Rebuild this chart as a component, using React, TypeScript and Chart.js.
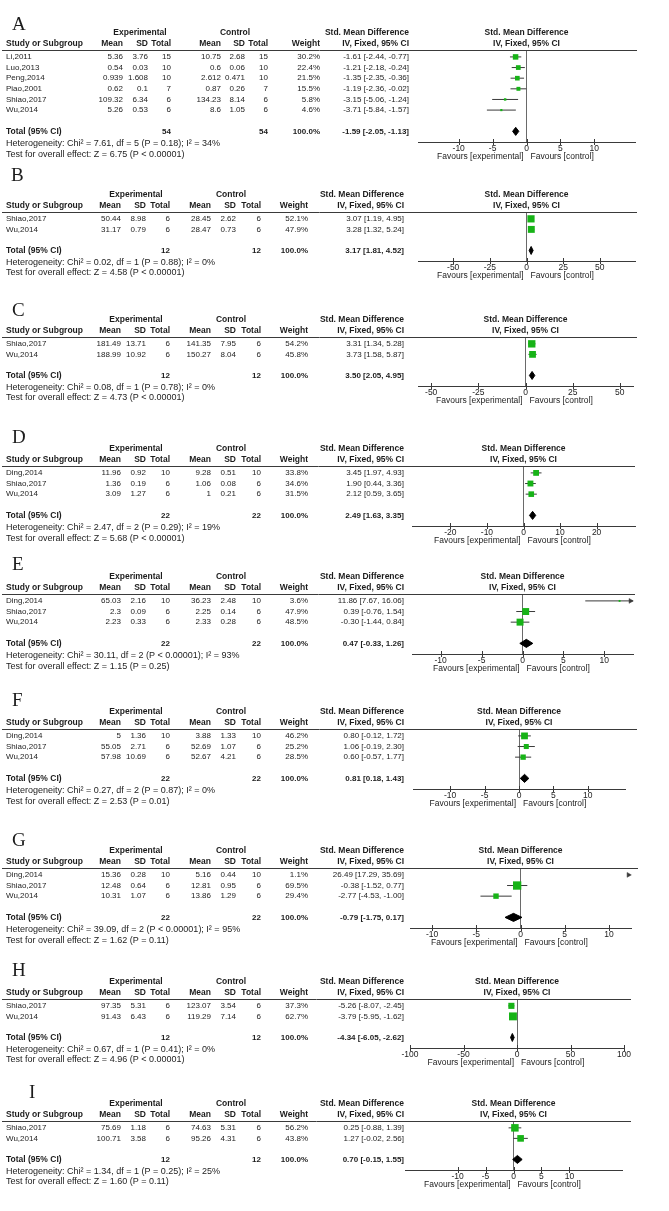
import React, { useEffect, useRef } from 'react';
import { Chart, registerables } from 'chart.js';

Chart.register(...registerables);

// ---------------- Panel A ----------------
const A_study = ['Li,2011', 'Luo,2013', 'Peng,2014', 'Piao,2001', 'Shiao,2017', 'Wu,2014'];
const A_expMean = [5.36, 0.54, 0.939, 0.62, 109.32, 5.26];
const A_expSD = [3.76, 0.03, 1.608, 0.1, 6.34, 0.53];
const A_expN = [15, 10, 10, 7, 6, 6];
const A_ctlMean = [10.75, 0.6, 2.612, 0.87, 134.23, 8.6];
const A_ctlSD = [2.68, 0.06, 0.471, 0.26, 8.14, 1.05];
const A_ctlN = [15, 10, 10, 7, 6, 6];
const A_weight = [30.2, 22.4, 21.5, 15.5, 5.8, 4.6];
const A_smd = [-1.61, -1.21, -1.35, -1.19, -3.15, -3.71];
const A_lo = [-2.44, -2.18, -2.35, -2.36, -5.06, -5.84];
const A_hi = [-0.77, -0.24, -0.36, -0.02, -1.24, -1.57];
const A_total = [54, 54];
const A_pooled = [-1.59, -2.05, -1.13];
const A_het = 'Heterogeneity: Chi² = 7.61, df = 5 (P = 0.18); I² = 34%';
const A_test = 'Test for overall effect: Z = 6.75 (P < 0.00001)';
const A_ticks = [-10, -5, 0, 5, 10];

// ---------------- Panel B ----------------
const B_study = ['Shiao,2017', 'Wu,2014'];
const B_expMean = [50.44, 31.17];
const B_expSD = [8.98, 0.79];
const B_expN = [6, 6];
const B_ctlMean = [28.45, 28.47];
const B_ctlSD = [2.62, 0.73];
const B_ctlN = [6, 6];
const B_weight = [52.1, 47.9];
const B_smd = [3.07, 3.28];
const B_lo = [1.19, 1.32];
const B_hi = [4.95, 5.24];
const B_total = [12, 12];
const B_pooled = [3.17, 1.81, 4.52];
const B_het = 'Heterogeneity: Chi² = 0.02, df = 1 (P = 0.88); I² = 0%';
const B_test = 'Test for overall effect: Z = 4.58 (P < 0.00001)';
const B_ticks = [-50, -25, 0, 25, 50];

// ---------------- Panel C ----------------
const C_study = ['Shiao,2017', 'Wu,2014'];
const C_expMean = [181.49, 188.99];
const C_expSD = [13.71, 10.92];
const C_expN = [6, 6];
const C_ctlMean = [141.35, 150.27];
const C_ctlSD = [7.95, 8.04];
const C_ctlN = [6, 6];
const C_weight = [54.2, 45.8];
const C_smd = [3.31, 3.73];
const C_lo = [1.34, 1.58];
const C_hi = [5.28, 5.87];
const C_total = [12, 12];
const C_pooled = [3.5, 2.05, 4.95];
const C_het = 'Heterogeneity: Chi² = 0.08, df = 1 (P = 0.78); I² = 0%';
const C_test = 'Test for overall effect: Z = 4.73 (P < 0.00001)';
const C_ticks = [-50, -25, 0, 25, 50];

// ---------------- Panel D ----------------
const D_study = ['Ding,2014', 'Shiao,2017', 'Wu,2014'];
const D_expMean = [11.96, 1.36, 3.09];
const D_expSD = [0.92, 0.19, 1.27];
const D_expN = [10, 6, 6];
const D_ctlMean = [9.28, 1.06, 1];
const D_ctlSD = [0.51, 0.08, 0.21];
const D_ctlN = [10, 6, 6];
const D_weight = [33.8, 34.6, 31.5];
const D_smd = [3.45, 1.9, 2.12];
const D_lo = [1.97, 0.44, 0.59];
const D_hi = [4.93, 3.36, 3.65];
const D_total = [22, 22];
const D_pooled = [2.49, 1.63, 3.35];
const D_het = 'Heterogeneity: Chi² = 2.47, df = 2 (P = 0.29); I² = 19%';
const D_test = 'Test for overall effect: Z = 5.68 (P < 0.00001)';
const D_ticks = [-20, -10, 0, 10, 20];

// ---------------- Panel E ----------------
const E_study = ['Ding,2014', 'Shiao,2017', 'Wu,2014'];
const E_expMean = [65.03, 2.3, 2.23];
const E_expSD = [2.16, 0.09, 0.33];
const E_expN = [10, 6, 6];
const E_ctlMean = [36.23, 2.25, 2.33];
const E_ctlSD = [2.48, 0.14, 0.28];
const E_ctlN = [10, 6, 6];
const E_weight = [3.6, 47.9, 48.5];
const E_smd = [11.86, 0.39, -0.3];
const E_lo = [7.67, -0.76, -1.44];
const E_hi = [16.06, 1.54, 0.84];
const E_total = [22, 22];
const E_pooled = [0.47, -0.33, 1.26];
const E_het = 'Heterogeneity: Chi² = 30.11, df = 2 (P < 0.00001); I² = 93%';
const E_test = 'Test for overall effect: Z = 1.15 (P = 0.25)';
const E_ticks = [-10, -5, 0, 5, 10];

// ---------------- Panel F ----------------
const F_study = ['Ding,2014', 'Shiao,2017', 'Wu,2014'];
const F_expMean = [5, 55.05, 57.98];
const F_expSD = [1.36, 2.71, 10.69];
const F_expN = [10, 6, 6];
const F_ctlMean = [3.88, 52.69, 52.67];
const F_ctlSD = [1.33, 1.07, 4.21];
const F_ctlN = [10, 6, 6];
const F_weight = [46.2, 25.2, 28.5];
const F_smd = [0.8, 1.06, 0.6];
const F_lo = [-0.12, -0.19, -0.57];
const F_hi = [1.72, 2.3, 1.77];
const F_total = [22, 22];
const F_pooled = [0.81, 0.18, 1.43];
const F_het = 'Heterogeneity: Chi² = 0.27, df = 2 (P = 0.87); I² = 0%';
const F_test = 'Test for overall effect: Z = 2.53 (P = 0.01)';
const F_ticks = [-10, -5, 0, 5, 10];

// ---------------- Panel G ----------------
const G_study = ['Ding,2014', 'Shiao,2017', 'Wu,2014'];
const G_expMean = [15.36, 12.48, 10.31];
const G_expSD = [0.28, 0.64, 1.07];
const G_expN = [10, 6, 6];
const G_ctlMean = [5.16, 12.81, 13.86];
const G_ctlSD = [0.44, 0.95, 1.29];
const G_ctlN = [10, 6, 6];
const G_weight = [1.1, 69.5, 29.4];
const G_smd = [26.49, -0.38, -2.77];
const G_lo = [17.29, -1.52, -4.53];
const G_hi = [35.69, 0.77, -1.0];
const G_total = [22, 22];
const G_pooled = [-0.79, -1.75, 0.17];
const G_het = 'Heterogeneity: Chi² = 39.09, df = 2 (P < 0.00001); I² = 95%';
const G_test = 'Test for overall effect: Z = 1.62 (P = 0.11)';
const G_ticks = [-10, -5, 0, 5, 10];

// ---------------- Panel H ----------------
const H_study = ['Shiao,2017', 'Wu,2014'];
const H_expMean = [97.35, 91.43];
const H_expSD = [5.31, 6.43];
const H_expN = [6, 6];
const H_ctlMean = [123.07, 119.29];
const H_ctlSD = [3.54, 7.14];
const H_ctlN = [6, 6];
const H_weight = [37.3, 62.7];
const H_smd = [-5.26, -3.79];
const H_lo = [-8.07, -5.95];
const H_hi = [-2.45, -1.62];
const H_total = [12, 12];
const H_pooled = [-4.34, -6.05, -2.62];
const H_het = 'Heterogeneity: Chi² = 0.67, df = 1 (P = 0.41); I² = 0%';
const H_test = 'Test for overall effect: Z = 4.96 (P < 0.00001)';
const H_ticks = [-100, -50, 0, 50, 100];

// ---------------- Panel I ----------------
const I_study = ['Shiao,2017', 'Wu,2014'];
const I_expMean = [75.69, 100.71];
const I_expSD = [1.18, 3.58];
const I_expN = [6, 6];
const I_ctlMean = [74.63, 95.26];
const I_ctlSD = [5.31, 4.31];
const I_ctlN = [6, 6];
const I_weight = [56.2, 43.8];
const I_smd = [0.25, 1.27];
const I_lo = [-0.88, -0.02];
const I_hi = [1.39, 2.56];
const I_total = [12, 12];
const I_pooled = [0.7, -0.15, 1.55];
const I_het = 'Heterogeneity: Chi² = 1.34, df = 1 (P = 0.25); I² = 25%';
const I_test = 'Test for overall effect: Z = 1.60 (P = 0.11)';
const I_ticks = [-10, -5, 0, 5, 10];

// ---------------- Styling / layout ----------------
const W = 669;
const FONT = "'Liberation Sans', Arial, Helvetica, sans-serif";
const SERIF = "'Liberation Serif', 'Times New Roman', serif";
const FS_HEAD = 8.5;
const FS_DATA = 8;
const FS_FOOT = 9;
const FS_TICK = 8.5;
const TEXT = '#1c1c1c';
const GREEN = '#17b317';
const CI_COLOR = '#3a3a3a';
const AXIS_COLOR = '#3a3a3a';
const ZERO_COLOR = '#6a6a6a';
const RH = 10.6; // row height
const PAD_TOP = 48;
const XH = 20;
const PAD_BOTTOM = 8;
const DIAMOND_H = 0.38;
const SQ_K = 1.0;

const COLS_A = { m1: 123, s1: 148, n1: 171, m2: 221, s2: 245, n2: 268, w: 320, ci: 409, expC: 140, ctlC: 235 };
const COLS_STD = { m1: 121, s1: 146, n1: 170, m2: 211, s2: 236, n2: 261, w: 308, ci: 404, expC: 136, ctlC: 231 };

type Panel = {
  label: string;
  study: string[];
  m1: number[]; s1: number[]; n1: number[];
  m2: number[]; s2: number[]; n2: number[];
  w: number[]; smd: number[]; lo: number[]; hi: number[];
  tot: number[]; pooled: number[]; het: string; test: string; ticks: number[];
  lay: { lineY: number; labelX: number; labelY: number; plotL: number; plotR: number; xMax: number; lineR: number; cols: typeof COLS_A };
};

const PANELS: Panel[] = [
  { label: 'A', study: A_study, m1: A_expMean, s1: A_expSD, n1: A_expN, m2: A_ctlMean, s2: A_ctlSD, n2: A_ctlN, w: A_weight, smd: A_smd, lo: A_lo, hi: A_hi, tot: A_total, pooled: A_pooled, het: A_het, test: A_test, ticks: A_ticks,
    lay: { lineY: 50, labelX: 12, labelY: 25, plotL: 418, plotR: 635, xMax: 16, lineR: 637, cols: COLS_A } },
  { label: 'B', study: B_study, m1: B_expMean, s1: B_expSD, n1: B_expN, m2: B_ctlMean, s2: B_ctlSD, n2: B_ctlN, w: B_weight, smd: B_smd, lo: B_lo, hi: B_hi, tot: B_total, pooled: B_pooled, het: B_het, test: B_test, ticks: B_ticks,
    lay: { lineY: 212, labelX: 11, labelY: 176, plotL: 418, plotR: 635, xMax: 74, lineR: 637, cols: COLS_STD } },
  { label: 'C', study: C_study, m1: C_expMean, s1: C_expSD, n1: C_expN, m2: C_ctlMean, s2: C_ctlSD, n2: C_ctlN, w: C_weight, smd: C_smd, lo: C_lo, hi: C_hi, tot: C_total, pooled: C_pooled, het: C_het, test: C_test, ticks: C_ticks,
    lay: { lineY: 337, labelX: 12, labelY: 311, plotL: 418, plotR: 633, xMax: 57, lineR: 637, cols: COLS_STD } },
  { label: 'D', study: D_study, m1: D_expMean, s1: D_expSD, n1: D_expN, m2: D_ctlMean, s2: D_ctlSD, n2: D_ctlN, w: D_weight, smd: D_smd, lo: D_lo, hi: D_hi, tot: D_total, pooled: D_pooled, het: D_het, test: D_test, ticks: D_ticks,
    lay: { lineY: 466, labelX: 12, labelY: 438, plotL: 412, plotR: 635, xMax: 30.5, lineR: 635, cols: COLS_STD } },
  { label: 'E', study: E_study, m1: E_expMean, s1: E_expSD, n1: E_expN, m2: E_ctlMean, s2: E_ctlSD, n2: E_ctlN, w: E_weight, smd: E_smd, lo: E_lo, hi: E_hi, tot: E_total, pooled: E_pooled, het: E_het, test: E_test, ticks: E_ticks,
    lay: { lineY: 594, labelX: 12, labelY: 565, plotL: 412, plotR: 633, xMax: 13.5, lineR: 635, cols: COLS_STD } },
  { label: 'F', study: F_study, m1: F_expMean, s1: F_expSD, n1: F_expN, m2: F_ctlMean, s2: F_ctlSD, n2: F_ctlN, w: F_weight, smd: F_smd, lo: F_lo, hi: F_hi, tot: F_total, pooled: F_pooled, het: F_het, test: F_test, ticks: F_ticks,
    lay: { lineY: 729, labelX: 12, labelY: 701, plotL: 413, plotR: 625, xMax: 15.4, lineR: 637, cols: COLS_STD } },
  { label: 'G', study: G_study, m1: G_expMean, s1: G_expSD, n1: G_expN, m2: G_ctlMean, s2: G_ctlSD, n2: G_ctlN, w: G_weight, smd: G_smd, lo: G_lo, hi: G_hi, tot: G_total, pooled: G_pooled, het: G_het, test: G_test, ticks: G_ticks,
    lay: { lineY: 868, labelX: 12, labelY: 841, plotL: 410, plotR: 631, xMax: 12.5, lineR: 638, cols: COLS_STD } },
  { label: 'H', study: H_study, m1: H_expMean, s1: H_expSD, n1: H_expN, m2: H_ctlMean, s2: H_ctlSD, n2: H_ctlN, w: H_weight, smd: H_smd, lo: H_lo, hi: H_hi, tot: H_total, pooled: H_pooled, het: H_het, test: H_test, ticks: H_ticks,
    lay: { lineY: 999, labelX: 12, labelY: 971, plotL: 410, plotR: 624, xMax: 100, lineR: 631, cols: COLS_STD } },
  { label: 'I', study: I_study, m1: I_expMean, s1: I_expSD, n1: I_expN, m2: I_ctlMean, s2: I_ctlSD, n2: I_ctlN, w: I_weight, smd: I_smd, lo: I_lo, hi: I_hi, tot: I_total, pooled: I_pooled, het: I_het, test: I_test, ticks: I_ticks,
    lay: { lineY: 1121, labelX: 29, labelY: 1093, plotL: 405, plotR: 622, xMax: 19.4, lineR: 631, cols: COLS_STD } },
];

function geom(p: Panel) {
  const n = p.study.length;
  const yMin = -0.65;
  const yMax = n + 2;
  const chartH = (yMax - yMin) * RH;
  const h = Math.round(PAD_TOP + chartH + XH + PAD_BOTTOM);
  const top = p.lay.lineY - PAD_TOP;
  return { n, yMin, yMax, h, top };
}

const ciText = (e: number, l: number, u: number) => `${e.toFixed(2)} [${l.toFixed(2)}, ${u.toFixed(2)}]`;

function makePlugin(p: Panel, g: ReturnType<typeof geom>) {
  return {
    id: 'forestText' + p.label,
    afterDraw(chart: any) {
      const ctx = chart.ctx as CanvasRenderingContext2D;
      const ys = chart.scales.y;
      const xs = chart.scales.x;
      const ca = chart.chartArea;
      const c = p.lay.cols;
      const yp = (v: number) => ys.getPixelForValue(v);
      const head = `bold ${FS_HEAD}px ${FONT}`;
      const data = `${FS_DATA}px ${FONT}`;
      const dataBold = `bold ${FS_DATA}px ${FONT}`;
      const foot = `${FS_FOOT}px ${FONT}`;
      const txt = (s: string, x: number, y: number, align: CanvasTextAlign) => {
        ctx.textAlign = align;
        ctx.fillText(s, x, y);
      };
      ctx.save();
      ctx.fillStyle = TEXT;
      ctx.textBaseline = 'middle';

      // panel letter
      ctx.font = `19px ${SERIF}`;
      txt(p.label, p.lay.labelX, p.lay.labelY - g.top, 'left');

      // headers
      const h1 = ca.top - 17;
      const h2 = ca.top - 6;
      const mid = (ca.left + ca.right) / 2;
      ctx.font = head;
      txt('Experimental', c.expC, h1, 'center');
      txt('Control', c.ctlC, h1, 'center');
      txt('Std. Mean Difference', c.ci, h1, 'right');
      txt('Std. Mean Difference', mid, h1, 'center');
      txt('Study or Subgroup', 6, h2, 'left');
      txt('Mean', c.m1, h2, 'right');
      txt('SD', c.s1, h2, 'right');
      txt('Total', c.n1, h2, 'right');
      txt('Mean', c.m2, h2, 'right');
      txt('SD', c.s2, h2, 'right');
      txt('Total', c.n2, h2, 'right');
      txt('Weight', c.w, h2, 'right');
      txt('IV, Fixed, 95% CI', c.ci, h2, 'right');
      txt('IV, Fixed, 95% CI', mid, h2, 'center');

      // header rule
      ctx.strokeStyle = AXIS_COLOR;
      ctx.lineWidth = 1;
      ctx.beginPath();
      ctx.moveTo(2, Math.round(ca.top) + 0.5);
      ctx.lineTo(p.lay.lineR, Math.round(ca.top) + 0.5);
      ctx.stroke();

      // study rows
      ctx.font = data;
      p.study.forEach((s, i) => {
        const y = yp(i);
        txt(s, 6, y, 'left');
        txt(String(p.m1[i]), c.m1, y, 'right');
        txt(String(p.s1[i]), c.s1, y, 'right');
        txt(String(p.n1[i]), c.n1, y, 'right');
        txt(String(p.m2[i]), c.m2, y, 'right');
        txt(String(p.s2[i]), c.s2, y, 'right');
        txt(String(p.n2[i]), c.n2, y, 'right');
        txt(p.w[i].toFixed(1) + '%', c.w, y, 'right');
        txt(ciText(p.smd[i], p.lo[i], p.hi[i]), c.ci, y, 'right');
      });

      // total row
      const ty = yp(g.n + 1);
      ctx.font = head;
      txt('Total (95% CI)', 6, ty, 'left');
      ctx.font = dataBold;
      txt(String(p.tot[0]), c.n1, ty, 'right');
      txt(String(p.tot[1]), c.n2, ty, 'right');
      txt('100.0%', c.w, ty, 'right');
      txt(ciText(p.pooled[0], p.pooled[1], p.pooled[2]), c.ci, ty, 'right');

      // heterogeneity / overall effect
      ctx.font = foot;
      txt(p.het, 6, yp(g.n + 2) + 1.4, 'left');
      txt(p.test, 6, yp(g.n + 3) + 1.4, 'left');

      // favours
      ctx.font = `${FS_TICK}px ${FONT}`;
      const z = xs.getPixelForValue(0);
      const fy = ca.bottom + 14.5;
      txt('Favours [experimental]', z - 3, fy, 'right');
      txt('Favours [control]', z + 4, fy, 'left');

      // tick marks crossing the axis
      ctx.strokeStyle = AXIS_COLOR;
      ctx.beginPath();
      xs.ticks.forEach((t: any) => {
        const px = Math.round(xs.getPixelForValue(t.value)) + 0.5;
        ctx.moveTo(px, ca.bottom - 3);
        ctx.lineTo(px, ca.bottom + 3);
      });
      ctx.stroke();
      ctx.restore();
    },
  };
}

function makeConfig(p: Panel, g: ReturnType<typeof geom>): any {
  const xMin = -p.lay.xMax;
  const xMax = p.lay.xMax;
  const upp = (xMax - xMin) / (p.lay.plotR - p.lay.plotL);
  const datasets: any[] = [];

  // confidence-interval lines
  p.lo.forEach((lo, i) => {
    const a = Math.max(lo, xMin);
    const b = Math.min(p.hi[i], xMax);
    if (a < b) {
      datasets.push({
        type: 'line',
        data: [{ x: a, y: i }, { x: b, y: i }],
        borderColor: CI_COLOR,
        borderWidth: 1,
        pointRadius: 0,
        fill: false,
        order: 3,
      });
    }
  });

  // weighted squares
  const sq: any[] = [];
  const sqR: number[] = [];
  p.smd.forEach((v, i) => {
    if (v >= xMin && v <= xMax) {
      sq.push({ x: v, y: i });
      sqR.push((Math.sqrt(p.w[i]) * SQ_K) / Math.SQRT2);
    }
  });
  datasets.push({
    type: 'scatter',
    data: sq,
    pointStyle: 'rect',
    pointRadius: sqR,
    pointBackgroundColor: GREEN,
    backgroundColor: GREEN,
    pointBorderWidth: 0,
    borderWidth: 0,
    order: 1,
  });

  // arrows for intervals beyond the axis
  const ar: any[] = [];
  const arRot: number[] = [];
  p.hi.forEach((h, i) => {
    if (h > xMax) {
      ar.push({ x: xMax - 2.5 * upp, y: i });
      arRot.push(90);
    }
  });
  p.lo.forEach((l, i) => {
    if (l < xMin) {
      ar.push({ x: xMin + 2.5 * upp, y: i });
      arRot.push(-90);
    }
  });
  if (ar.length) {
    datasets.push({
      type: 'scatter',
      data: ar,
      pointStyle: 'triangle',
      pointRadius: 2.8,
      pointRotation: arRot,
      pointBackgroundColor: CI_COLOR,
      pointBorderColor: CI_COLOR,
      pointBorderWidth: 0.5,
      clip: false,
      order: 0,
    });
  }

  // pooled diamond
  const T = g.n + 1;
  const [est, dlo, dhi] = p.pooled;
  datasets.push({
    type: 'line',
    data: [
      { x: dlo, y: T },
      { x: est, y: T - DIAMOND_H },
      { x: dhi, y: T },
      { x: est, y: T + DIAMOND_H },
      { x: dlo, y: T },
    ],
    borderColor: '#000',
    backgroundColor: '#000',
    borderWidth: 1,
    pointRadius: 0,
    tension: 0,
    fill: 'shape',
    order: 0,
  });

  return {
    type: 'scatter',
    data: { datasets },
    options: {
      responsive: false,
      maintainAspectRatio: false,
      devicePixelRatio: 1,
      animation: false,
      events: [],
      layout: { padding: { left: p.lay.plotL, right: W - p.lay.plotR, top: PAD_TOP, bottom: PAD_BOTTOM } },
      plugins: { legend: { display: false }, tooltip: { enabled: false }, title: { display: false } },
      scales: {
        x: {
          type: 'linear',
          min: xMin,
          max: xMax,
          afterBuildTicks: (s: any) => {
            s.ticks = p.ticks.map((v) => ({ value: v }));
          },
          afterFit: (s: any) => {
            s.height = XH;
          },
          ticks: {
            font: { family: FONT, size: FS_TICK },
            color: TEXT,
            padding: 2,
            autoSkip: false,
            maxRotation: 0,
            minRotation: 0,
            callback: (v: any) => String(v),
          },
          grid: {
            drawOnChartArea: true,
            drawTicks: false,
            lineWidth: 1,
            color: (c: any) => (c.tick && c.tick.value === 0 ? ZERO_COLOR : 'rgba(0,0,0,0)'),
          },
          border: { display: true, color: AXIS_COLOR, width: 1 },
        },
        y: { type: 'linear', min: g.yMin, max: g.yMax, reverse: true, display: false },
      },
    },
    plugins: [makePlugin(p, g)],
  };
}

function ForestPanel({ p }: { p: Panel }) {
  const ref = useRef<HTMLCanvasElement>(null);
  const g = geom(p);
  useEffect(() => {
    if (!ref.current) return;
    const chart = new Chart(ref.current, makeConfig(p, g));
    return () => chart.destroy();
  }, []);
  return (
    <canvas
      ref={ref}
      width={W}
      height={g.h}
      style={{ position: 'absolute', left: 0, top: g.top, width: W, height: g.h }}
    />
  );
}

export default function App() {
  return (
    <div style={{ position: 'absolute', left: 0, top: 0, width: W, height: 1211, background: '#fff', overflow: 'hidden' }}>
      {PANELS.map((p) => (
        <ForestPanel key={p.label} p={p} />
      ))}
    </div>
  );
}
